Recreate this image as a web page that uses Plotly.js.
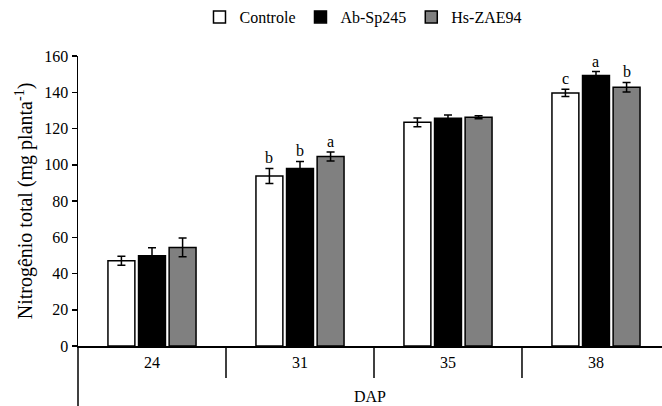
<!DOCTYPE html>
<html><head><meta charset="utf-8">
<script src="https://cdn.plot.ly/plotly-3.0.1.min.js"></script>
<style>body{margin:0;background:#fff}</style>
</head><body><div id="chart" style="width:662px;height:406px"></div>
<script>
const categories = ['24', '31', '35', '38'];
const seriesNames = ['Controle', 'Ab-Sp245', 'Hs-ZAE94'];
const controle = [47.0, 93.8, 123.4, 139.6];
const abSp245 = [49.8, 98.0, 125.6, 149.2];
const hsZAE94 = [54.4, 104.6, 126.2, 142.8];
const errControle = [2.5, 4.2, 2.4, 2.0];
const errAb = [4.4, 3.8, 1.8, 2.2];
const errHs = [5.2, 2.5, 0.8, 2.6];
const lettersControle = ['', 'b', '', 'c'];
const lettersAb = ['', 'b', '', 'a'];
const lettersHs = ['', 'a', '', 'b'];
const yTicks = [0, 20, 40, 60, 80, 100, 120, 140, 160];

const values = [controle, abSp245, hsZAE94];
const errs = [errControle, errAb, errHs];
const letters = [lettersControle, lettersAb, lettersHs];
const colors = ['#ffffff', '#000000', '#808080'];
const bargap = 0.38;

const FAM = 'Liberation Serif';
const f = (s) => ({family: FAM, size: s, color: '#000000'});
const traces = seriesNames.map((n, j) => ({
  type: 'bar', name: n, x: categories, y: values[j],
  marker: {color: colors[j], line: {color: '#000', width: 1.5}},
  error_y: {type: 'data', array: errs[j], visible: true, color: '#000', thickness: 1.5, width: 4}
}));

const slot = (1 - bargap) / seriesNames.length;
const annotations = [];
letters.forEach((arr, j) => arr.forEach((t, i) => {
  if (!t) return;
  annotations.push({x: i + (j - 1) * slot, y: values[j][i] + errs[j][i], xref: 'x', yref: 'y',
    text: t, showarrow: false, yanchor: 'bottom', yshift: 0, font: f(16)});
}));

const shapes = [{type: 'line', xref: 'paper', yref: 'paper', x0: 0, x1: 0, y0: 0, y1: -0.21,
  line: {color: '#000', width: 1.5}}];
for (let i = 0; i < categories.length; i++) {
  shapes.push({type: 'line', xref: 'x', yref: 'paper', x0: i + 0.5, x1: i + 0.5, y0: 0, y1: -0.11,
    line: {color: '#000', width: 1.5}});
}

const layout = {
  width: 662, height: 406,
  margin: {l: 78, r: 0, t: 56, b: 60},
  paper_bgcolor: '#fff', plot_bgcolor: '#fff',
  font: f(15),
  barmode: 'group', bargap: bargap, bargroupgap: 0.12,
  showlegend: true,
  legend: {orientation: 'h', x: 0.488, xanchor: 'center', y: 1.0, yref: 'container', yanchor: 'top',
    font: f(16), itemwidth: 30, traceorder: 'normal'},
  xaxis: {
    type: 'category', range: [-0.5, 3.446], fixedrange: true,
    showline: true, linecolor: '#000', linewidth: 1.5,
    ticks: '', ticklabelstandoff: 1,
    tickfont: f(16),
    title: {text: 'DAP', font: f(16), standoff: 21},
    showgrid: false, zeroline: false, automargin: false
  },
  yaxis: {
    range: [0, 160], tickvals: yTicks, ticktext: yTicks.map(String),
    showline: true, linecolor: '#000', linewidth: 1.5,
    ticks: 'outside', ticklen: 5, tickwidth: 1.5, tickcolor: '#000',
    tickfont: f(16),
    title: {text: 'Nitrogênio total (mg planta<sup>-1</sup>)', font: f(20), standoff: 6},
    showgrid: false, zeroline: false, automargin: false
  },
  shapes: shapes,
  annotations: annotations
};
Plotly.newPlot('chart', traces, layout, {displayModeBar: false, staticPlot: true});
</script></body></html>
